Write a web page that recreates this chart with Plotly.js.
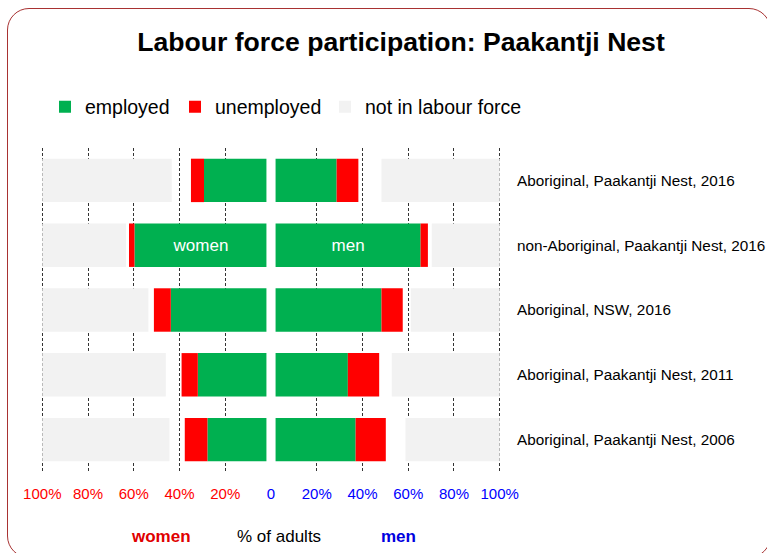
<!DOCTYPE html>
<html>
<head>
<meta charset="utf-8">
<script src="https://cdn.plot.ly/plotly-3.0.1.min.js"></script>
<style>
  html, body { margin: 0; padding: 0; background: #fff; overflow: hidden; }
  #chart { position: absolute; left: 0; top: 0; width: 767px; height: 553px; }
  #frame { position: absolute; left: 7px; top: 8px; width: 762px; height: 548px;
           border: 1px solid #a83232; border-radius: 22px; pointer-events: none; }
</style>
</head>
<body>
<div id="chart"></div>
<div id="frame"></div>
<script>
// ---- data (percent of adults) ----
const categories = [
  "Aboriginal, Paakantji Nest, 2016",
  "non-Aboriginal, Paakantji Nest, 2016",
  "Aboriginal, NSW, 2016",
  "Aboriginal, Paakantji Nest, 2011",
  "Aboriginal, Paakantji Nest, 2006"
];
const womenEmployed   = [27.3, 57.7, 41.8, 30.0, 25.8];
const womenUnemployed = [5.7, 2.4, 7.4, 7.1, 9.9];
const womenNotInLF    = [56.6, 36.6, 46.4, 54.0, 55.6];
const menEmployed     = [26.7, 63.4, 46.3, 31.6, 35.0];
const menUnemployed   = [9.5, 3.2, 9.3, 13.7, 13.2];
const menNotInLF      = [51.7, 29.7, 38.9, 47.2, 41.2];
const insideWomen = ["", "women", "", "", ""];
const insideMen   = ["", "men", "", "", ""];
const tickVals   = [-100, -80, -60, -40, -20, 0, 20, 40, 60, 80, 100];
const tickLabels = ["100%", "80%", "60%", "40%", "20%", "0", "20%", "40%", "60%", "80%", "100%"];

// ---- styling ----
const GAP = 2;               // visual gap either side of the centre line
const FONT = "Liberation Sans, Arial, sans-serif";
const GREEN = "#00b050", RED = "#ff0000", GREY = "#f2f2f2";
const BARW = 0.67;

const neg = a => a.map(v => -v);
const common = { type: "bar", orientation: "h", y: categories, width: BARW,
                 hoverinfo: "skip", marker: { line: { width: 0 } } };

const traces = [
  Object.assign({}, common, {
    name: "employed", legend: "legend", legendgroup: "emp", x: neg(womenEmployed), base: womenEmployed.map(() => -GAP),
    marker: { color: GREEN }, text: insideWomen, textposition: "inside", insidetextanchor: "middle",
    textangle: 0, constraintext: "none", textfont: { color: "#ffffff", size: 17, family: FONT }
  }),
  Object.assign({}, common, {
    name: "employed", legendgroup: "emp", showlegend: false, x: menEmployed, base: menEmployed.map(() => GAP),
    marker: { color: GREEN }, text: insideMen, textposition: "inside", insidetextanchor: "middle",
    textangle: 0, constraintext: "none", textfont: { color: "#ffffff", size: 17, family: FONT }
  }),
  Object.assign({}, common, {
    name: "unemployed", legend: "legend2", legendgroup: "un", x: neg(womenUnemployed),
    base: womenEmployed.map(v => -(GAP + v)), marker: { color: RED }
  }),
  Object.assign({}, common, {
    name: "unemployed", legendgroup: "un", showlegend: false, x: menUnemployed,
    base: menEmployed.map(v => GAP + v), marker: { color: RED }
  }),
  Object.assign({}, common, {
    name: "not in labour force", legend: "legend3", legendgroup: "nilf", x: womenNotInLF,
    base: womenNotInLF.map(() => -100), marker: { color: GREY }
  }),
  Object.assign({}, common, {
    name: "not in labour force", legendgroup: "nilf", showlegend: false, x: neg(menNotInLF),
    base: menNotInLF.map(() => 100), marker: { color: GREY }
  })
];

const tickText = tickVals.map((v, i) =>
  '<span style="color:' + (v < 0 ? RED : "#0000ff") + '">' + tickLabels[i] + '</span>');

function legendAt(px) {
  return {
    orientation: "h", xref: "container", yref: "container",
    x: px / 767, xanchor: "left", y: 1 - 107 / 553, yanchor: "middle",
    font: { family: FONT, size: 19.5, color: "#000000" },
    bgcolor: "rgba(0,0,0,0)", itemclick: false, itemdoubleclick: false
  };
}

const layout = {
  width: 767, height: 553,
  margin: { l: 40, r: 265, t: 148, b: 81, pad: 0 },
  paper_bgcolor: "#ffffff", plot_bgcolor: "#ffffff",
  font: { family: FONT, color: "#000000" },
  barmode: "overlay",
  title: {
    text: "Labour force participation: Paakantji Nest",
    xref: "container", x: 401 / 767, xanchor: "center",
    yref: "container", y: 1 - 42 / 553, yanchor: "middle",
    font: { family: FONT, size: 26.6, weight: 700, color: "#000000" }
  },
  showlegend: true,
  legend: legendAt(45),
  legend2: legendAt(175),
  legend3: legendAt(325),
  xaxis: {
    range: [-101, 101], tickmode: "array", tickvals: tickVals, ticktext: tickText,
    showgrid: true, gridcolor: "#333333", gridwidth: 1, griddash: "3px,2px",
    zeroline: true, zerolinecolor: "#ffffff", zerolinewidth: 3,
    showline: false, ticks: "",
    ticklabelstandoff: 11, tickfont: { family: FONT, size: 15 }, fixedrange: true
  },
  yaxis: {
    type: "category", categoryorder: "array", categoryarray: categories,
    autorange: "reversed", side: "right", showgrid: false, zeroline: false, showline: false,
    ticks: "", ticklabelstandoff: 14, tickfont: { family: FONT, size: 15.3, color: "#000000" },
    fixedrange: true
  },
  annotations: [
    { text: "<b>women</b>", xref: "x", yref: "paper", x: -48, y: (472 - 536) / 324,
      showarrow: false, font: { family: FONT, size: 17, color: "#e00000" }, xanchor: "center", yanchor: "middle" },
    { text: "% of adults", xref: "x", yref: "paper", x: 3.7, y: (472 - 536) / 324,
      showarrow: false, font: { family: FONT, size: 17, color: "#000000" }, xanchor: "center", yanchor: "middle" },
    { text: "<b>men</b>", xref: "x", yref: "paper", x: 55.8, y: (472 - 536) / 324,
      showarrow: false, font: { family: FONT, size: 17, color: "#0000e0" }, xanchor: "center", yanchor: "middle" }
  ]
};

Plotly.newPlot("chart", traces, layout, { displayModeBar: false, staticPlot: true });
</script>
</body>
</html>
